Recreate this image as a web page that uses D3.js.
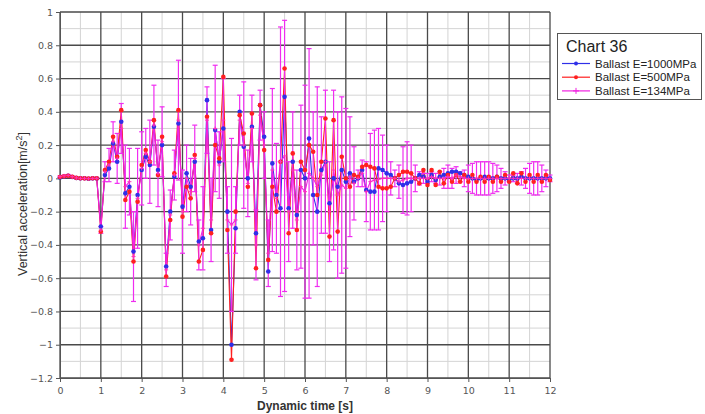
<!DOCTYPE html>
<html><head><meta charset="utf-8">
<script src="https://cdn.jsdelivr.net/npm/d3@7"></script>
<style>body{margin:0;background:#fff}svg{display:block}text{font-family:"Liberation Sans",Arial,sans-serif}</style>
</head><body>
<script>
const chartTitle = "Chart 36";
const seriesNames = ["Ballast E=1000MPa","Ballast E=500MPa","Ballast E=134MPa"];
const time = [0,0.1,0.2,0.3,0.4,0.5,0.6,0.7,0.8,0.9,1,1.1,1.2,1.3,1.4,1.5,1.6,1.7,1.8,1.9,2,2.1,2.2,2.3,2.4,2.5,2.6,2.7,2.8,2.9,3,3.1,3.2,3.3,3.4,3.5,3.6,3.7,3.8,3.9,4,4.1,4.2,4.3,4.4,4.5,4.6,4.7,4.8,4.9,5,5.1,5.2,5.3,5.4,5.5,5.6,5.7,5.8,5.9,6,6.1,6.2,6.3,6.4,6.5,6.6,6.7,6.8,6.9,7,7.1,7.2,7.3,7.4,7.5,7.6,7.7,7.8,7.9,8,8.1,8.2,8.3,8.4,8.5,8.6,8.7,8.8,8.9,9,9.1,9.2,9.3,9.4,9.5,9.6,9.7,9.8,9.9,10,10.1,10.2,10.3,10.4,10.5,10.6,10.7,10.8,10.9,11,11.1,11.2,11.3,11.4,11.5,11.6,11.7,11.8,11.9,12];
const blue = [0.005,0.01,0.015,0.008,0.002,0,0.001,-0.002,0,-0.001,
 -0.29,0.02,0.06,0.21,0.1,0.34,-0.09,-0.05,-0.44,-0.1,
 0.05,0.13,0.08,0.31,0.05,0.2,-0.53,-0.2,0.01,0.33,
 -0.17,0.03,-0.05,0.1,-0.38,-0.36,0.47,-0.31,0.29,0.1,
 0.3,-0.2,-1.0,-0.3,0.4,0.19,0,0.31,-0.33,0.44,
 0.25,-0.56,0.09,-0.1,-0.18,0.49,-0.18,0.1,-0.22,0.05,
 0,0.24,-0.1,-0.2,0.05,0.1,-0.15,0,-0.05,0.05,
 -0.02,0.03,-0.02,0,0.05,-0.07,-0.08,-0.08,0.06,0.05,
 0.03,0.02,0,-0.03,-0.04,-0.03,-0.02,0,0.02,0.01,
 -0.02,0.02,-0.01,0.01,0.02,0.03,0.04,0.04,0.03,0.02,
 0.01,0,-0.01,0,0.01,0,0,0.01,0,0,
 -0.01,0,0,0.01,0,0,0,0,0,0,0];
const red = [0.008,0.012,0.015,0.01,0.003,0.001,0,-0.001,0.001,0,
 -0.32,0.05,0.1,0.25,0.13,0.41,-0.13,-0.08,-0.5,-0.14,
 0.08,0.17,0.1,0.35,0.02,0.25,-0.59,-0.25,0.03,0.41,
 -0.23,-0.05,-0.12,0.14,-0.5,-0.43,0.37,-0.33,0.2,0.12,
 0.61,-0.31,-1.09,-0.2,0.38,0.27,-0.05,0.39,-0.54,0.44,
 0.17,-0.49,-0.05,-0.2,0.1,0.66,-0.33,0.15,-0.31,0.1,
 0.05,0.2,0.16,-0.1,0.1,0.36,-0.35,0.35,-0.32,0.13,
 0,-0.05,0.02,0.01,0.07,0.08,0.07,0.06,-0.05,-0.06,
 -0.06,-0.05,0,0.02,0.04,0.04,0.03,0,-0.03,0.05,
 -0.04,0.05,-0.04,0.04,-0.03,0.02,-0.02,0.02,-0.02,0.02,
 -0.02,0.02,-0.02,0.01,-0.02,0.01,-0.02,0.01,-0.02,0.02,
 -0.02,0.03,-0.03,0.03,-0.02,0.02,-0.02,0.02,-0.02,0.02,-0.01];
const magenta = [0.01,0.015,0.018,0.01,0.003,0,0,-0.002,0,0,
 -0.31,0.04,0.08,0.22,0.12,0.3,-0.05,-0.02,-0.47,-0.12,
 0.06,0.15,0.1,0.32,0.03,0.22,-0.55,-0.22,0.02,0.35,
 -0.2,0,-0.08,0.12,-0.4,-0.3,0.35,-0.25,0.3,0.08,
 0.35,-0.25,-0.28,-0.25,0.35,0.2,-0.03,0.3,-0.4,0.38,
 0.2,-0.45,0.05,-0.12,0.1,0.135,-0.2,0.05,-0.25,-0.05,
 -0.08,0.03,0,-0.05,0.02,0.1,-0.2,0.05,-0.1,-0.04,
 -0.06,0.01,-0.03,0,0.03,-0.08,-0.02,-0.01,-0.005,0,
 0,0,0,-0.02,-0.01,0,0,0,0,0,
 0,0.01,0,0,0,0.01,0,0.02,0.01,0,
 0,0,0,0,0,0,0,0,0,0,
 0,0,0,0,0,0,0,0,0,0,0];
const magentaErr = [0.005,0.005,0.005,0.005,0.005,0.005,0.005,0.005,0.005,0.005,
 0.02,0.06,0.1,0.12,0.15,0.15,0.25,0.2,0.27,0.3,
 0.22,0.15,0.25,0.24,0.2,0.21,0.1,0.15,0.15,0.36,
 0.25,0.2,0.2,0.2,0.15,0.25,0.2,0.25,0.38,0.2,
 0.25,0.2,0.52,0.2,0.15,0.38,0.2,0.2,0.21,0.15,
 0.2,0.2,0.49,0.33,0.81,0.815,0.3,0.35,0.3,0.49,
 0.64,0.75,0.4,0.6,0.35,0.43,0.3,0.48,0.5,0.53,
 0.48,0.36,0.22,0.05,0.08,0.18,0.29,0.3,0.305,0.26,
 0.2,0.1,0.05,0.1,0.2,0.22,0.2,0.08,0.04,0.03,
 0.03,0.03,0.03,0.04,0.06,0.07,0.06,0.05,0.03,0.05,
 0.08,0.09,0.1,0.1,0.1,0.1,0.09,0.08,0.06,0.04,
 0.02,0.02,0.03,0.04,0.06,0.09,0.1,0.1,0.08,0.05,0.02];
const xTicks = [0,1,2,3,4,5,6,7,8,9,10,11,12];
const yTicks = [-1.2,-1,-0.8,-0.6,-0.4,-0.2,0,0.2,0.4,0.6,0.8,1];
const xMinor = [0.5,1.5,2.5,3.5,4.5,5.5,6.5,7.5,8.5,9.5,10.5,11.5];
const yMinor = [-1.1,-0.9,-0.7,-0.5,-0.3,-0.1,0.1,0.3,0.5,0.7,0.9];
const colors = ["#2f2fe8","#ff2020","#f020e0"];

const W=705,H=414;
const svg=d3.select("body").append("svg").attr("width",W).attr("height",H);
const x=d3.scaleLinear().domain([0,12]).range([60,550]);
const y=d3.scaleLinear().domain([-1.2,1]).range([378,12]);

// grid
const g=svg.append("g");
g.selectAll(".vmin").data(xMinor).join("line").attr("x1",d=>x(d)).attr("x2",d=>x(d)).attr("y1",y(1)).attr("y2",y(-1.2)).attr("stroke","#d4d4d4").attr("stroke-width",1);
g.selectAll(".hmin").data(yMinor).join("line").attr("y1",d=>y(d)).attr("y2",d=>y(d)).attr("x1",x(0)).attr("x2",x(12)).attr("stroke","#d4d4d4").attr("stroke-width",1);
g.selectAll(".vmaj").data(xTicks).join("line").attr("x1",d=>x(d)).attr("x2",d=>x(d)).attr("y1",y(1)).attr("y2",y(-1.2)).attr("stroke","#4a4a4a").attr("stroke-width",1.3);
g.selectAll(".hmaj").data(yTicks).join("line").attr("y1",d=>y(d)).attr("y2",d=>y(d)).attr("x1",x(0)).attr("x2",x(12)).attr("stroke","#4a4a4a").attr("stroke-width",1.3);

// axes
const ax=svg.append("g").attr("transform",`translate(0,${y(-1.2)})`).call(d3.axisBottom(x).tickValues(xTicks).tickSize(4).tickFormat(d3.format("d")));
const ay=svg.append("g").attr("transform",`translate(${x(0)},0)`).call(d3.axisLeft(y).tickValues(yTicks).tickSize(4).tickFormat(d=>d3.format("~g")(d)));
[ax,ay].forEach(a=>{a.select(".domain").attr("stroke","#555");a.selectAll(".tick line").attr("stroke","#555");a.selectAll("text").attr("fill","#555").style("font-size","9.5px").style("font-family","'DejaVu Sans',sans-serif");});
ax.selectAll("text").attr("dy","0.9em");

const data=time.map((t,i)=>({t,b:blue[i],r:red[i],m:magenta[i],e:magentaErr[i]}));

function drawLine(key,color){
  const line=d3.line().x(d=>x(d.t)).y(d=>y(d[key]));
  svg.append("path").datum(data).attr("d",line).attr("fill","none").attr("stroke",color).attr("stroke-width",1.1);
}
function drawMarkers(key,color,marker){
  if(marker==="circle"){
    svg.append("g").selectAll("circle").data(data).join("circle").attr("cx",d=>x(d.t)).attr("cy",d=>y(d[key])).attr("r",2.3).attr("fill",color);
  } else {
    svg.append("g").selectAll("path").data(data).join("path").attr("d",d=>`M${x(d.t)-2},${y(d[key])}h4M${x(d.t)},${y(d[key])-2}v4`).attr("stroke",color).attr("stroke-width",1);
  }
}
drawLine("b",colors[0]);
drawLine("r",colors[1]);

// error bars
const eb=svg.append("g").attr("stroke","#f02cf0").attr("stroke-width",1.2);
data.forEach(d=>{
  const x0=x(d.t),yt=y(d.m+d.e),yb=y(d.m-d.e);
  eb.append("line").attr("x1",x0).attr("x2",x0).attr("y1",yt).attr("y2",yb);
  eb.append("line").attr("x1",x0-2.5).attr("x2",x0+2.5).attr("y1",yt).attr("y2",yt);
  eb.append("line").attr("x1",x0-2.5).attr("x2",x0+2.5).attr("y1",yb).attr("y2",yb);
});
drawLine("m",colors[2]);
drawMarkers("b",colors[0],"circle");
drawMarkers("r",colors[1],"circle");
drawMarkers("m","#ff30c0","plus");

// axis titles
svg.append("text").attr("x",305).attr("y",410).attr("text-anchor","middle").style("font-size","12px").style("font-weight","bold").attr("fill","#333").text("Dynamic time [s]");
const yl=svg.append("text").attr("transform","translate(27,204) rotate(-90)").attr("text-anchor","middle").style("font-size","12.5px").attr("fill","#333");
yl.append("tspan").text("Vertical acceleration[m/s");
yl.append("tspan").attr("dy","-5").style("font-size","9px").text("2");
yl.append("tspan").attr("dy","5").text("]");

// legend
const lg=svg.append("g");
lg.append("rect").attr("x",557.5).attr("y",33.5).attr("width",144).attr("height",66).attr("fill","#fff").attr("stroke","#555");
lg.append("text").attr("x",566).attr("y",52).style("font-size","16px").attr("fill","#222").text(chartTitle);
seriesNames.forEach((n,i)=>{
  const yy=63.5+i*13.7;
  lg.append("line").attr("x1",562).attr("x2",590).attr("y1",yy).attr("y2",yy).attr("stroke",colors[i]).attr("stroke-width",1.2);
  if(i<2) lg.append("circle").attr("cx",576).attr("cy",yy).attr("r",2).attr("fill",colors[i]);
  else lg.append("path").attr("d",`M573,${yy}h6M576,${yy-3}v6`).attr("stroke",colors[i]);
  lg.append("text").attr("x",595).attr("y",yy+4).style("font-size","11.5px").attr("fill","#222").text(n);
});
</script>
</body></html>
